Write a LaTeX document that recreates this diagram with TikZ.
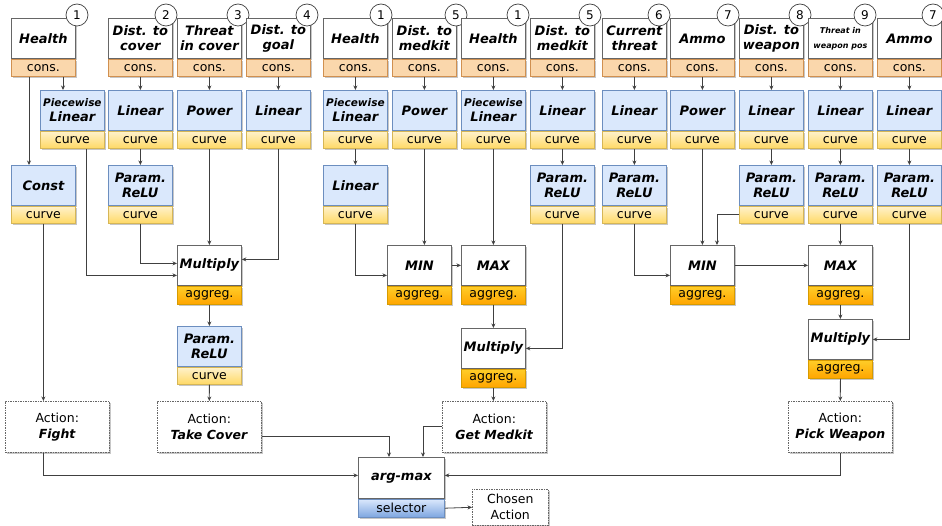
\documentclass[tikz,border=0pt]{standalone}
\usepackage{fontspec}
\setmainfont{DejaVu Sans}
\usetikzlibrary{arrows.meta,shadows,calc}

\definecolor{linec}{HTML}{404040}
\definecolor{boxline}{HTML}{666666}
\definecolor{consfill}{HTML}{FAD7AC}
\definecolor{consline}{HTML}{D09050}
\definecolor{fnfill}{HTML}{DAE8FC}
\definecolor{fnline}{HTML}{6C8EBF}
\definecolor{crvtop}{HTML}{FFF2CC}
\definecolor{crvbot}{HTML}{FFD966}
\definecolor{crvline}{HTML}{D6B656}
\definecolor{aggtop}{HTML}{FFCD28}
\definecolor{aggbot}{HTML}{FFA500}
\definecolor{aggline}{HTML}{D79B00}
\definecolor{seltop}{HTML}{DAE8FC}
\definecolor{selbot}{HTML}{7EA6E0}

\newcommand\ttl{\fontsize{13pt}{15pt}\selectfont\bfseries\itshape}
\newcommand\lbl{\fontsize{12.5pt}{16pt}\selectfont}

\tikzset{
  shd/.style={drop shadow={shadow xshift=1.5pt,shadow yshift=-1.5pt,opacity=.22,fill=black}},
  part/.style={rectangle, inner sep=0pt, minimum width=64pt, align=center, line width=0.8pt, shd},
  titlebox/.style={part, draw=boxline, fill=white, minimum height=40pt, font=\ttl},
  fnbox/.style={part, draw=fnline, fill=fnfill, minimum height=40pt, font=\ttl},
  consband/.style={part, draw=consline, fill=consfill, minimum height=17pt, font=\lbl},
  curveband/.style={part, draw=crvline, top color=crvtop, bottom color=crvbot, minimum height=17pt, font=\lbl},
  aggband/.style={part, draw=aggline, top color=aggtop, bottom color=aggbot, minimum height=18pt, font=\lbl},
  selband/.style={part, draw=fnline, top color=seltop, bottom color=selbot, minimum height=18pt, font=\lbl},
  actionbox/.style={rectangle, inner sep=0pt, draw=boxline, dash pattern=on 1.5pt off 1pt, line width=0.6pt,
    fill=white, minimum width=104pt, minimum height=51pt, align=center, font=\lbl, shd},
  numcirc/.style={circle, draw=linec, fill=white, line width=0.7pt, minimum size=22pt, inner sep=0pt,
    font=\fontsize{12pt}{14pt}\selectfont},
  conn/.style={draw=linec, line width=0.8pt, -{Stealth[length=4.5pt,width=4pt]}},
}

% input consideration: name, left x, title, number, x of number badge
\newcommand\mkinput[5]{%
  \node[titlebox, anchor=north west] (#1) at (#2,18) {#3};
  \node[consband, anchor=north west] (#1b) at (#1.south west) {cons.};
  \node[numcirc] (#1n) at (#5,15) {#4};
}
% response curve: name, left x, top y, title
\newcommand\mkcurve[4]{%
  \node[fnbox, anchor=north west] (#1) at (#2,#3) {#4};
  \node[curveband, anchor=north west] (#1b) at (#1.south west) {curve};
}
% aggregator: name, left x, top y, title
\newcommand\mkagg[4]{%
  \node[titlebox, anchor=north west] (#1) at (#2,#3) {#4};
  \node[aggband, anchor=north west] (#1b) at (#1.south west) {aggreg.};
}
\newcommand\pw{{\fontsize{10.5pt}{12pt}\selectfont Piecewise}\\Linear}
\newcommand\smallttl{\fontsize{8pt}{15pt}\selectfont}

\begin{document}
\begin{tikzpicture}[x=1pt,y=-1pt]
\useasboundingbox (0,0) rectangle (942,526);

% considerations
\mkinput{t1}{11}{Health}{1}{77}
\mkinput{t2}{108}{Dist. to\\cover}{2}{166}
\mkinput{t3}{177}{Threat\\in cover}{3}{238}
\mkinput{t4}{246}{Dist. to\\goal}{4}{307}
\mkinput{t5}{323}{Health}{1}{381}
\mkinput{t6}{392}{Dist. to\\medkit}{5}{456}
\mkinput{t7}{461}{Health}{1}{518}
\mkinput{t8}{530}{Dist. to\\medkit}{5}{590}
\mkinput{t9}{602}{Current\\threat}{6}{659}
\mkinput{t10}{670}{Ammo}{7}{728}
\mkinput{t11}{739}{Dist. to\\weapon}{8}{800}
\mkinput{t12}{808}{{\smallttl Threat in}\\{\smallttl weapon pos}}{9}{865}
\mkinput{t13}{877}{Ammo}{7}{933}

% first curve row
\mkcurve{c1}{40}{90}{\pw}
\mkcurve{c2}{108}{90}{Linear}
\mkcurve{c3}{177}{90}{Power}
\mkcurve{c4}{246}{90}{Linear}
\mkcurve{c5}{323}{90}{\pw}
\mkcurve{c6}{392}{90}{Power}
\mkcurve{c7}{461}{90}{\pw}
\mkcurve{c8}{530}{90}{Linear}
\mkcurve{c9}{602}{90}{Linear}
\mkcurve{c10}{670}{90}{Power}
\mkcurve{c11}{739}{90}{Linear}
\mkcurve{c12}{808}{90}{Linear}
\mkcurve{c13}{877}{90}{Linear}

% second curve row
\mkcurve{r1}{11}{165}{Const}
\mkcurve{r2}{108}{165}{Param.\\ReLU}
\mkcurve{r5}{323}{165}{Linear}
\mkcurve{r8}{530}{165}{Param.\\ReLU}
\mkcurve{r9}{602}{165}{Param.\\ReLU}
\mkcurve{r11}{739}{165}{Param.\\ReLU}
\mkcurve{r12}{808}{165}{Param.\\ReLU}
\mkcurve{r13}{877}{165}{Param.\\ReLU}

% aggregators
\mkagg{m1}{177}{245}{Multiply}
\mkcurve{p1}{177}{326}{Param.\\ReLU}
\mkagg{mn1}{387}{245}{MIN}
\mkagg{mx1}{461}{245}{MAX}
\mkagg{ml2}{461}{328}{Multiply}
\mkagg{mn2}{670}{245}{MIN}
\mkagg{mx2}{808}{245}{MAX}
\mkagg{ml3}{808}{319}{Multiply}

% actions
\node[actionbox, anchor=north west] (fight) at (5,401) {Action:\\\textbf{\textit{Fight}}};
\node[actionbox, anchor=north west] (cover) at (157,401) {Action:\\\textbf{\textit{Take Cover}}};
\node[actionbox, anchor=north west] (medkit) at (442,401) {Action:\\\textbf{\textit{Get Medkit}}};
\node[actionbox, anchor=north west] (weapon) at (788,401) {Action:\\\textbf{\textit{Pick Weapon}}};

% selector
\node[titlebox, minimum width=86pt, minimum height=41pt, anchor=north west] (amax) at (358,457) {arg-max};
\node[selband, minimum width=86pt, anchor=north west] (amaxb) at (amax.south west) {selector};
\node[actionbox, minimum width=76pt, minimum height=36pt, anchor=north west] (chosen) at (472,489) {Chosen\\Action};

% routing columns
\coordinate (xa) at (29,0);
\coordinate (xb) at (63,0);
\coordinate (xc) at (86,0);
\coordinate (xd) at (717,0);
\coordinate (xe) at (423,0);
\coordinate (xf) at (389,0);

% consideration -> curve
\draw[conn] (t1b.south -| xb) -- (c1.north -| xb);
\draw[conn] (t1b.south -| xa) -- (r1.north -| xa);
\foreach \i in {2,...,13} \draw[conn] (t\i b.south) -- (c\i.north);
\foreach \i in {2,5,8,9,11,12,13} \draw[conn] (c\i b.south) -- (r\i.north);

% Take Cover chain
\draw[conn] (r2b.south) |- ([yshift=2pt]m1.west);
\draw[conn] (c1b.south -| xc) |- ([yshift=-10pt]m1.west);
\draw[conn] (c3b.south) -- (m1.north);
\draw[conn] (c4b.south) |- ([yshift=6pt]m1.east);
\draw[conn] (m1b.south) -- (p1.north);
\draw[conn] (p1b.south) -- (cover.north);

% Fight
\draw[conn] (r1b.south) -- (r1b.south |- fight.north);

% Get Medkit chain
\draw[conn] (r5b.south) |- ([yshift=-10pt]mn1.west);
\draw[conn] (c6b.south) -- (c6b.south |- mn1.north);
\draw[conn] (mn1.east) -- (mx1.west);
\draw[conn] (c7b.south) -- (c7b.south |- mx1.north);
\draw[conn] (mx1b.south) -- (ml2.north);
\draw[conn] (r8b.south) |- (ml2.east);
\draw[conn] (ml2b.south) -- (ml2b.south |- medkit.north);

% Pick Weapon chain
\draw[conn] (r9b.south) |- ([yshift=-10pt]mn2.west);
\draw[conn] (c10b.south) -- (mn2.north);
\draw[conn] (r11b.west) -| (mn2.north -| xd);
\draw[conn] (mn2.east) -- (mx2.west);
\draw[conn] (r12b.south) -- (mx2.north);
\draw[conn] (mx2b.south) -- (ml3.north);
\draw[conn] (r13b.south) |- (ml3.east);
\draw[conn] (ml3b.south) -- (weapon.north);

% actions -> selector
\draw[conn] (fight.south -| r1b.south) |- ([yshift=2.5pt]amax.west);
\draw[conn] ([yshift=-9.5pt]cover.east) -| (amax.north -| xf);
\draw[conn] (medkit.west) -| (amax.north -| xe);
\draw[conn] (weapon.south) |- ([yshift=2.5pt]amax.east);
\draw[conn] (amaxb.east) -- (chosen.west);
\end{tikzpicture}
\end{document}
